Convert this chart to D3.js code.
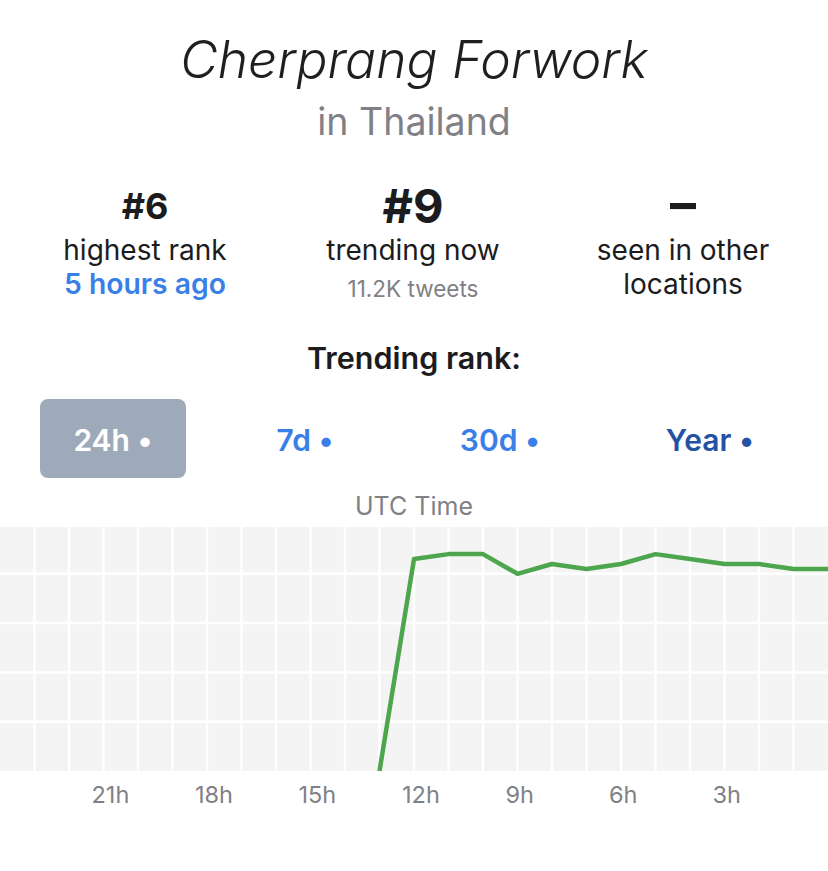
<!DOCTYPE html>
<html>
<head>
<meta charset="utf-8">
<script src="https://cdn.jsdelivr.net/npm/d3@7/dist/d3.min.js"></script>
<style>
  html, body { margin: 0; padding: 0; background: #ffffff; }
  svg { display: block; }
  text { font-family: Inter, "Noto Sans", "Liberation Sans", sans-serif; }
</style>
</head>
<body>
<svg id="chart" width="828" height="871"></svg>
<script>
// ---- data ----
const title = "Cherprang Forwork";
const subtitle = "in Thailand";
const statValues = ["#6", "#9", "–"];
const statLines1 = ["highest rank", "trending now", "seen in other"];
const statLines2 = ["5 hours ago", "11.2K tweets", "locations"];
const rangeButtons = ["24h", "7d", "30d", "Year"];
const hoursAgo = [13, 12, 11, 10, 9, 8, 7, 6, 5, 4, 3, 2, 1, 0];
const ranks    = [50, 7, 6, 6, 10, 8, 9, 8, 6, 7, 8, 8, 9, 9];
const tickHours = [21, 18, 15, 12, 9, 6, 3];
const tickLabels = ["21h", "18h", "15h", "12h", "9h", "6h", "3h"];
const hourGrid = d3.range(1, 24);
const rankGrid = [10, 20, 30, 40];

const svg = d3.select("#chart");
const W = 828;

// ---- header ----
svg.append("text").attr("x", W / 2).attr("y", 78).attr("text-anchor", "middle")
  .attr("font-size", 51.5).attr("font-style", "italic").attr("font-weight", 300)
  .attr("fill", "#1f1f22").text(title);
svg.append("text").attr("x", W / 2).attr("y", 135).attr("text-anchor", "middle")
  .attr("font-size", 37.5).attr("fill", "#808086").text(subtitle);

const colX = [145, 413, 683];
const statSize = [36, 47, 52];
const statBase = [219, 223, 222];
statValues.forEach((v, i) => {
  svg.append("text").attr("x", colX[i]).attr("y", statBase[i]).attr("text-anchor", "middle")
    .attr("font-size", statSize[i]).attr("font-weight", 700).attr("fill", "#1c1c1e").text(v);
  svg.append("text").attr("x", colX[i]).attr("y", 260).attr("text-anchor", "middle")
    .attr("font-size", 28).attr("fill", "#1c1c1e").text(statLines1[i]);
});
svg.append("text").attr("x", colX[0]).attr("y", 294).attr("text-anchor", "middle")
  .attr("font-size", 28.3).attr("font-weight", 600).attr("fill", "#3a7fe8").text(statLines2[0]);
svg.append("text").attr("x", colX[1]).attr("y", 297).attr("text-anchor", "middle")
  .attr("font-size", 22.5).attr("fill", "#808086").text(statLines2[1]);
svg.append("text").attr("x", colX[2]).attr("y", 294).attr("text-anchor", "middle")
  .attr("font-size", 28).attr("fill", "#1c1c1e").text(statLines2[2]);

svg.append("text").attr("x", W / 2).attr("y", 369).attr("text-anchor", "middle")
  .attr("font-size", 30.5).attr("font-weight", 600).attr("fill", "#1c1c1e").text("Trending rank:");

// ---- range buttons ----
svg.append("rect").attr("x", 40).attr("y", 399).attr("width", 146).attr("height", 79)
  .attr("rx", 8).attr("fill", "#9eaaba");
const btnX = [113, 305, 500, 710];
const btnColor = ["#ffffff", "#3a7fe8", "#3a7fe8", "#2352a5"];
rangeButtons.forEach((b, i) => {
  svg.append("text").attr("x", btnX[i]).attr("y", 451).attr("text-anchor", "middle")
    .attr("font-size", 30).attr("font-weight", 600).attr("fill", btnColor[i])
    .text(b + " •");
});

svg.append("text").attr("x", W / 2).attr("y", 515).attr("text-anchor", "middle")
  .attr("font-size", 25).attr("fill", "#808086").text("UTC Time");

// ---- chart ----
const plotTop = 527, plotBottom = 771;
const x = d3.scaleLinear().domain([24, 0]).range([0, W]);
const y = d3.scaleLinear().domain([0.5, 50]).range([plotTop, plotBottom]);

svg.append("rect").attr("x", x(24)).attr("y", plotTop).attr("width", x(0) - x(24))
  .attr("height", plotBottom - plotTop).attr("fill", "#f4f4f4");

svg.append("g").selectAll("line").data(hourGrid).join("line")
  .attr("x1", d => x(d)).attr("x2", d => x(d))
  .attr("y1", plotTop).attr("y2", plotBottom)
  .attr("stroke", "#ffffff").attr("stroke-width", 2.5);
svg.append("g").selectAll("line").data(rankGrid).join("line")
  .attr("x1", x(24)).attr("x2", x(0))
  .attr("y1", d => y(d)).attr("y2", d => y(d))
  .attr("stroke", "#ffffff").attr("stroke-width", 2.5);

const pts = hoursAgo.map((h, i) => [h, ranks[i]]);
svg.append("path").datum(pts)
  .attr("fill", "none").attr("stroke", "#4da64d").attr("stroke-width", 4.5)
  .attr("stroke-linejoin", "round")
  .attr("d", d3.line().x(d => x(d[0])).y(d => y(d[1])));

// ---- x axis labels ----
svg.append("g").selectAll("text").data(tickHours).join("text")
  .attr("x", d => x(d)).attr("dx", -12).attr("y", 803)
  .attr("text-anchor", "start")
  .attr("font-size", 23.5).attr("fill", "#808086")
  .text((d, i) => tickLabels[i]);
</script>
</body>
</html>
